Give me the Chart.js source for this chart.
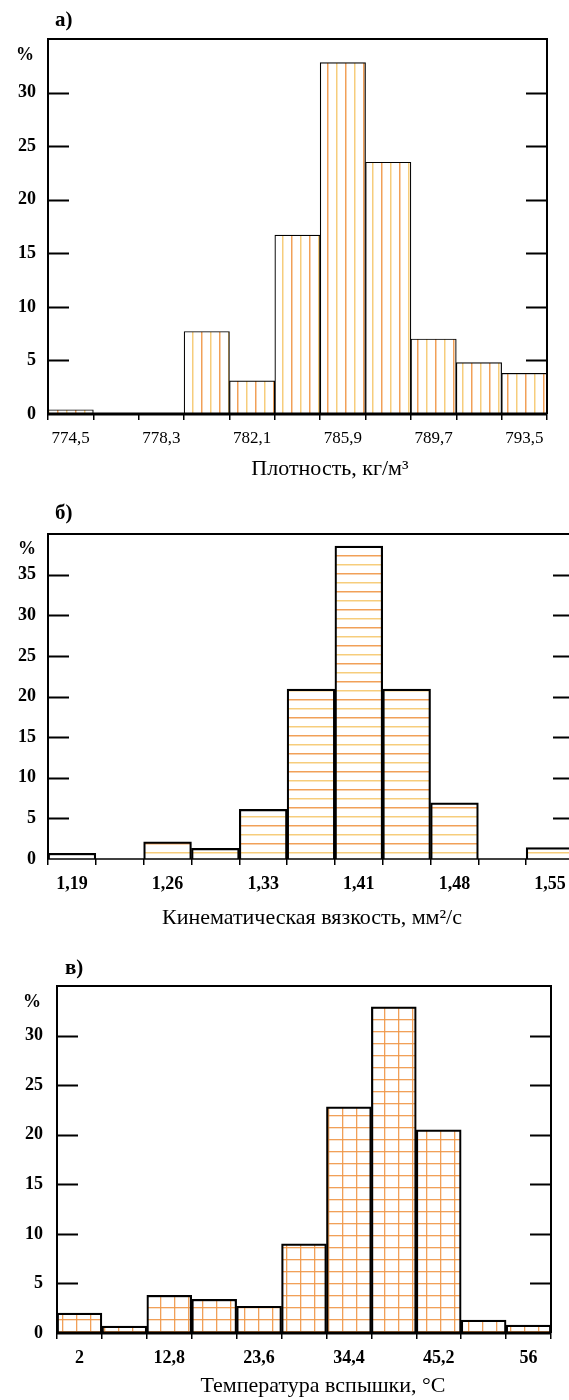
<!DOCTYPE html>
<html>
<head>
<meta charset="utf-8">
<script src="https://cdn.jsdelivr.net/npm/chart.js@4.4.1/dist/chart.umd.min.js"></script>
<style>
  html, body { margin: 0; padding: 0; background: #fff; overflow: hidden; width: 569px; height: 1400px; }
  .wrap { position: absolute; left: 0; }
  canvas { display: block; }
  .txt { position: absolute; font-family: "Liberation Serif", "Times New Roman", serif; color: #000; white-space: nowrap; line-height: 1; }
  .ttl { transform: translateX(-50%); font-size: 22px; }
</style>
</head>
<body>
<div class="wrap" style="top:0"><canvas id="cA" width="569" height="480"></canvas></div>
<div class="wrap" style="top:480px"><canvas id="cB" width="600" height="450"></canvas></div>
<div class="wrap" style="top:930px"><canvas id="cC" width="569" height="470"></canvas></div>

<div class="txt" style="left:55px;top:9px;font-size:21px;font-weight:bold">а)</div>
<div class="txt" style="left:16px;top:45px;font-size:18px;font-weight:bold">%</div>
<div class="txt ttl" style="left:330px;top:457px">Плотность, кг/м³</div>

<div class="txt" style="left:55px;top:502px;font-size:21px;font-weight:bold">б)</div>
<div class="txt" style="left:18px;top:539px;font-size:18px;font-weight:bold">%</div>
<div class="txt ttl" style="left:312px;top:906px">Кинематическая вязкость, мм²/с</div>

<div class="txt" style="left:65px;top:957px;font-size:21px;font-weight:bold">в)</div>
<div class="txt" style="left:23px;top:992px;font-size:18px;font-weight:bold">%</div>
<div class="txt ttl" style="left:323px;top:1374px">Температура вспышки, °С</div>

<script>
// ---- data ----
const densityLabels = ['774,5', '', '778,3', '', '782,1', '', '785,9', '', '789,7', '', '793,5'];
const densityValues = [0.4, 0, 0, 7.7, 3.1, 16.7, 32.8, 23.5, 7.0, 4.8, 3.8];

const viscosityLabels = ['1,19', '', '1,26', '', '1,33', '', '1,41', '', '1,48', '', '1,55'];
const viscosityValues = [0.7, 0, 2.1, 1.3, 6.1, 20.9, 38.5, 20.9, 6.9, 0, 1.4];

const flashLabels = ['2', '', '12,8', '', '23,6', '', '34,4', '', '45,2', '', '56'];
const flashValues = [2.0, 0.7, 3.8, 3.4, 2.7, 9.0, 22.8, 32.9, 20.5, 1.3, 0.8];

const yMaxA = 35, yMaxB = 40, yMaxC = 35;
const yStep = 5;

// ---- hatch patterns ----
function makePattern(kind) {
  const c = document.createElement('canvas');
  const x = c.getContext('2d');
  const or = 'rgba(240,150,70,0.9)', ye = 'rgba(245,200,110,0.9)';
  if (kind === 'v') {
    c.width = 18; c.height = 4;
    x.fillStyle = '#fff'; x.fillRect(0, 0, 18, 4);
    x.fillStyle = or; x.fillRect(3, 0, 1.5, 4);
    x.fillStyle = ye; x.fillRect(12, 0, 1.5, 4);
  } else if (kind === 'h') {
    c.width = 4; c.height = 18;
    x.fillStyle = '#fff'; x.fillRect(0, 0, 4, 18);
    x.fillStyle = or; x.fillRect(0, 3, 4, 1.5);
    x.fillStyle = ye; x.fillRect(0, 12, 4, 1.5);
  } else {
    c.width = 14; c.height = 12;
    x.fillStyle = '#fff'; x.fillRect(0, 0, 14, 12);
    x.fillStyle = or; x.fillRect(6, 0, 1.3, 12);
    x.fillStyle = or; x.fillRect(0, 5, 14, 1.3);
  }
  return x.createPattern(c, 'repeat');
}

const frame = {
  id: 'frame',
  afterDatasetsDraw(chart, args, o) {
    const { ctx, chartArea: a, scales: { y } } = chart;
    ctx.save();
    ctx.strokeStyle = '#000';
    ctx.lineWidth = o.boxWidth;
    ctx.beginPath();
    ctx.moveTo(a.left, a.bottom); ctx.lineTo(a.left, a.top); ctx.lineTo(a.right, a.top); ctx.lineTo(a.right, a.bottom);
    ctx.stroke();
    ctx.lineWidth = o.axisWidth;
    ctx.beginPath();
    ctx.moveTo(a.left, a.bottom); ctx.lineTo(a.right, a.bottom);
    ctx.stroke();
    ctx.lineWidth = o.tickWidth;
    ctx.beginPath();
    y.ticks.forEach(t => {
      if (t.value <= y.min || t.value >= y.max) return;
      const py = Math.round(y.getPixelForValue(t.value)) + 0.5;
      ctx.moveTo(a.left, py); ctx.lineTo(a.left + o.tickLen, py);
      ctx.moveTo(a.right, py); ctx.lineTo(a.right - o.tickLen, py);
    });
    ctx.stroke();
    ctx.restore();
  }
};

const serif = '"Liberation Serif", "Times New Roman", serif';

function makeChart(id, labels, values, yMax, cfg) {
  return new Chart(document.getElementById(id), {
    type: 'bar',
    data: {
      labels: labels,
      datasets: [{
        data: values,
        backgroundColor: makePattern(cfg.pattern),
        borderColor: '#000',
        borderWidth: cfg.barBorder,
        borderSkipped: 'bottom',
        barPercentage: 1,
        categoryPercentage: 1
      }]
    },
    options: {
      responsive: false,
      animation: false,
      layout: { padding: { top: cfg.top, right: cfg.right, left: 0, bottom: 0 } },
      plugins: {
        legend: { display: false },
        tooltip: { enabled: false },
        frame: { boxWidth: 2, axisWidth: cfg.axisWidth, tickWidth: 2, tickLen: cfg.tickLen }
      },
      scales: {
        x: {
          type: 'category',
          offset: true,
          border: { display: false },
          grid: { display: true, offset: true, drawOnChartArea: false, drawTicks: true, tickLength: 6, color: '#000', lineWidth: 1.5 },
          ticks: {
            autoSkip: false, maxRotation: 0, minRotation: 0, padding: cfg.xPad, color: '#000',
            font: { family: serif, size: cfg.xFont, weight: cfg.xWeight }
          },
          afterFit: s => { s.height = cfg.xHeight; }
        },
        y: {
          min: 0, max: yMax,
          border: { display: false },
          grid: { display: false, drawTicks: false },
          ticks: {
            stepSize: yStep, padding: cfg.yPad, color: '#000',
            font: { family: serif, size: cfg.yFont, weight: 'bold' },
            callback: v => (v >= yMax ? '' : String(v))
          },
          afterFit: s => { s.width = cfg.left; }
        }
      }
    },
    plugins: [frame]
  });
}

makeChart('cA', densityLabels, densityValues, yMaxA, {
  pattern: 'v', barBorder: 1.2, axisWidth: 3, tickLen: 21,
  top: 39, right: 22, left: 48, xHeight: 66, xPad: 8, xFont: 17, xWeight: 'normal', yFont: 18, yPad: 12
});
makeChart('cB', viscosityLabels, viscosityValues, yMaxB, {
  pattern: 'h', barBorder: 2.2, axisWidth: 1.6, tickLen: 21,
  top: 54, right: 26, left: 48, xHeight: 71, xPad: 9, xFont: 18, xWeight: 'bold', yFont: 18, yPad: 12
});
makeChart('cC', flashLabels, flashValues, yMaxC, {
  pattern: 'g', barBorder: 2.2, axisWidth: 3, tickLen: 21,
  top: 56, right: 18, left: 57, xHeight: 67, xPad: 9, xFont: 18, xWeight: 'bold', yFont: 18, yPad: 14
});
</script>
</body>
</html>
